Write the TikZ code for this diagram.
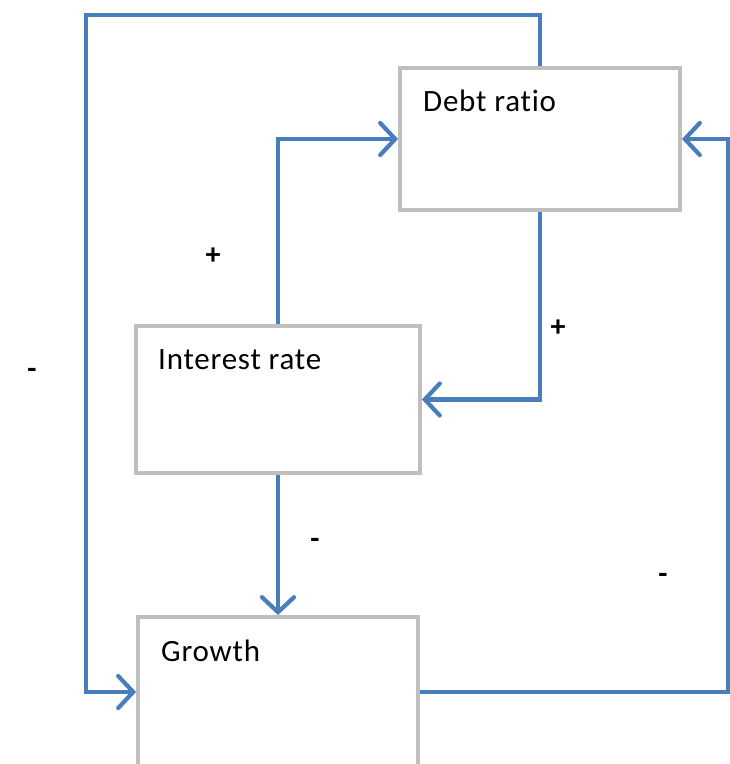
\documentclass[tikz,border=0pt]{standalone}
\usepackage{fontspec}
\setmainfont{Carlito}[Ligatures=NoCommon, LetterSpace=2.5]
\usetikzlibrary{arrows.meta}

\definecolor{linkblue}{RGB}{74,126,187}
\definecolor{framegray}{RGB}{191,191,191}

\begin{document}
\begin{tikzpicture}[x=1pt, y=-1pt,
  box/.style={draw=framegray, line width=3.8pt, fill=white, inner sep=0pt},
  boxlabel/.style={anchor=west, inner sep=0pt, font=\fontsize{31}{36}\selectfont},
  sign/.style={inner sep=0pt, font=\fontsize{30}{34}\selectfont\bfseries},
  link/.style={draw=linkblue, line width=4.2pt, line join=miter,
    -{Straight Barb[length=15pt, width=32pt, line cap=round]}}]
\useasboundingbox (0,0) rectangle (730,764);
\clip (0,0) rectangle (730,764);
\node[box, minimum width=280, minimum height=142] (debt) at (540,139) {};
\node[box, minimum width=284, minimum height=147] (rate) at (278,399.5) {};
\node[box, minimum width=280, minimum height=150] (growth) at (278,692) {};
\node[boxlabel] (debtname) at (423,101) {Debt ratio};
\node[boxlabel] (ratename) at (158,360) {Interest rate};
\node[boxlabel] (growthname) at (161,651) {Growth};
\coordinate (topleft) at (86,15);
\coordinate (right) at (728,415);
\draw[link] (debt.north) -- (debt.north |- topleft) -- (topleft) |- (growth.west);
\draw[link] (rate.north) |- (debt.west);
\draw[link] (debt.south) |- (rate.east);
\draw[link] (rate.south) -- (growth.north);
\draw[link] (growth.east) -| (right) |- (debt.east);
\node[sign] (plusA) at (213,256) {+};
\node[sign] (plusB) at (558,328) {+};
\node[sign] (minusA) at (32,373) {-};
\node[sign] (minusB) at (315,543) {-};
\node[sign] (minusC) at (663,578) {-};
\end{tikzpicture}
\end{document}
